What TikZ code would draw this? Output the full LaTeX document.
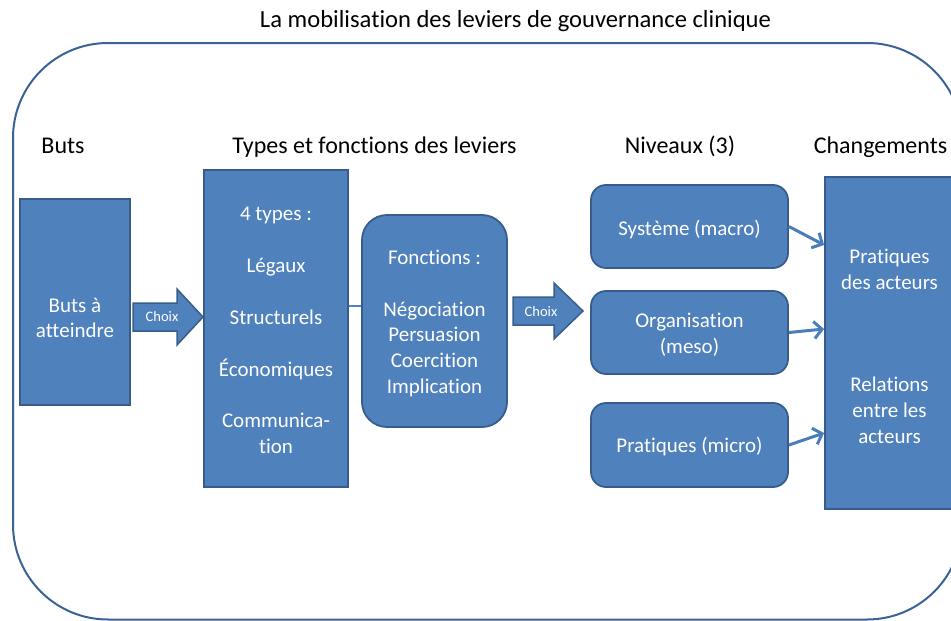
\documentclass[tikz,border=0pt]{standalone}
\usepackage{fontspec}
\setmainfont{Carlito}[Ligatures=NoCommon]
\usetikzlibrary{arrows.meta}
\definecolor{boxfill}{HTML}{4F81BD}
\definecolor{boxline}{HTML}{385D8A}
\definecolor{linkblue}{HTML}{4A7EBB}
\definecolor{framecol}{HTML}{3A6395}

\begin{document}
\begin{tikzpicture}[x=1pt,y=-1pt,
  box/.style={draw=boxline, fill=boxfill, line width=1.8pt, inner sep=0pt},
  roundbox/.style={box, rounded corners=#1},
  boxtext/.style={text=white, align=center, inner sep=0pt,
    font=\fontsize{21}{25.8}\selectfont},
  heading/.style={anchor=base, inner sep=0pt, font=\fontsize{24}{28}\selectfont},
  blockarrow/.style={fill=boxfill, draw=boxline, line width=1.5pt},
  choixtext/.style={text=white, inner sep=0pt, font=\fontsize{14.5}{17}\selectfont},
  link/.style={draw=boxfill, line width=2.2pt},
  arr/.style={draw=linkblue, line width=3pt,
    -{Straight Barb[length=8pt,width=17pt]}},
  frame/.style={draw=framecol, line width=2pt, rounded corners=95pt}
]
\useasboundingbox (0,0) rectangle (951,621);

% outer frame
\draw[frame] (13,43) rectangle (962,619.5);

% titles
\node[heading, font=\fontsize{24.6}{29}\selectfont] (title) at (515.5,27.5)
  {La mobilisation des leviers de gouvernance clinique};
\node[heading] (hbuts) at (63,153) {Buts};
\node[heading] (htypes) at (374.5,153) {Types et fonctions des leviers};
\node[heading] (hniv) at (680,153) {Niveaux (3)};
\node[heading] (hchg) at (880.5,153) {Changements};

% goals
\node[box, minimum width=110pt, minimum height=206pt] (buts) at (75,302) {};
\node[boxtext] (butstext) at (75,318) {Buts à\\atteindre};

% lever types
\node[box, minimum width=144pt, minimum height=317pt] (types) at (276,328.5) {};
\node[boxtext, font=\fontsize{21}{25.9}\selectfont] (typestext) at (276,330.5)
  {4 types :\\[25.9pt]Légaux\\[25.9pt]Structurels\\[25.9pt]Économiques\\[25.9pt]Communica-\\tion};

% functions
\node[roundbox=25pt, minimum width=145pt, minimum height=212pt] (fonct) at (434.5,321) {};
\node[boxtext] (fonctext) at (434.5,323.5)
  {Fonctions :\\[25.8pt]Négociation\\Persuasion\\Coercition\\Implication};

\draw[link] ([yshift=22.5pt]types.east) -- ([yshift=15pt]fonct.west);

% "Choix" block arrows
\draw[blockarrow] (133,303) -- (177,303) -- (177,289) -- (203,317)
  -- (177,345) -- (177,331) -- (133,331) -- cycle;
\node[choixtext] (choix1) at (162,317) {Choix};
\draw[blockarrow] (513,297) -- (554,297) -- (554,283) -- (583,311)
  -- (554,339) -- (554,325) -- (513,325) -- cycle;
\node[choixtext] (choix2) at (541,311.5) {Choix};

% levels
\node[roundbox=15pt, minimum width=197pt, minimum height=83pt] (sys) at (689.5,226.5) {};
\node[boxtext] (systext) at (689.5,230) {Système (macro)};
\node[roundbox=15pt, minimum width=197pt, minimum height=83pt] (org) at (689.5,332.5) {};
\node[boxtext] (orgtext) at (689.5,335) {Organisation\\(meso)};
\node[roundbox=15pt, minimum width=197pt, minimum height=84pt] (prat) at (689.5,445) {};
\node[boxtext] (prattext) at (689.5,446.5) {Pratiques (micro)};

% changes
\node[box, minimum width=129pt, minimum height=332pt] (chg) at (889.5,343) {};
\node[boxtext] (chg1) at (889.5,269) {Pratiques\\des acteurs};
\node[boxtext] (chg2) at (889.5,410) {Relations\\entre les\\acteurs};

\draw[arr] (sys.east) -- ([yshift=98pt]chg.west);
\draw[arr] (org.east) -- ([yshift=14pt]chg.west);
\draw[arr] (prat.east) -- ([yshift=-90pt]chg.west);
\end{tikzpicture}
\end{document}
